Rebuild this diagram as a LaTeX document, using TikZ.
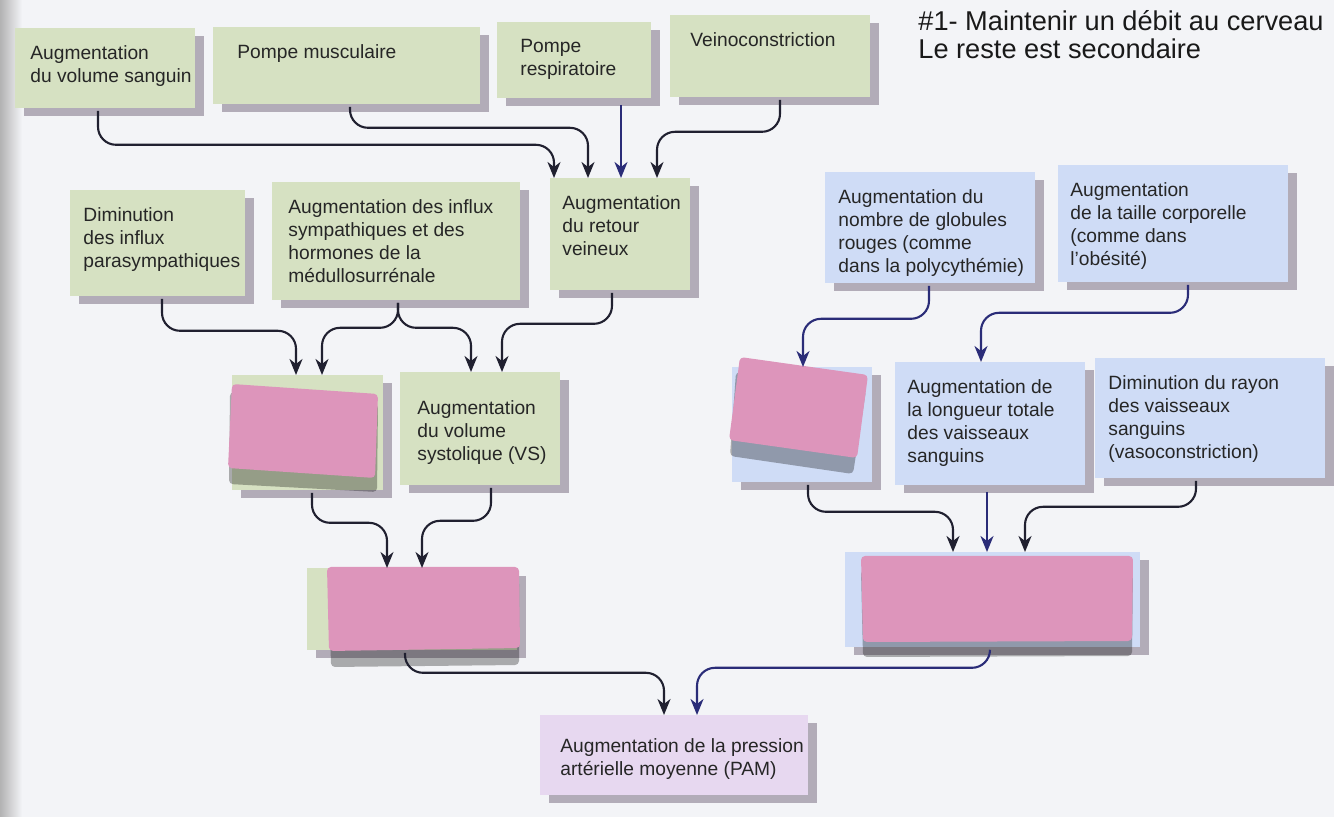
\documentclass[tikz,border=0pt]{standalone}
\usepackage{fontspec}
\setmainfont{Liberation Sans}
\usepackage{tikz}
\usetikzlibrary{arrows.meta, calc, shadows}
\definecolor{mybg}{RGB}{243,244,247}
\definecolor{mydark}{RGB}{32,32,48}
\definecolor{myblue}{RGB}{42,44,120}
\definecolor{mygreen}{RGB}{214,225,194}
\definecolor{mylblue}{RGB}{207,220,246}
\definecolor{mylilac}{RGB}{231,216,240}
\definecolor{mypink}{RGB}{221,149,187}
\definecolor{myshade}{RGB}{178,172,184}
\definecolor{mytext}{RGB}{38,38,38}
\tikzset{
  gbox/.style={rectangle, fill=mygreen, anchor=north west, inner sep=0pt,
    drop shadow={shadow xshift=4.5pt, shadow yshift=-4pt, fill=myshade, opacity=1}},
  bbox/.style={gbox, fill=mylblue},
  lbox/.style={gbox, fill=mylilac},
  txt/.style={anchor=north west, align=left, inner sep=0pt, xshift=#1, yshift=-8.5pt,
    font=\fontsize{9.6}{11.6}\selectfont, text=mytext},
  txt/.default=6.5pt,
  arrow/.style={-{Stealth[length=8pt, width=6.5pt, inset=2.5pt]}, line width=1.05pt,
    color=mydark, rounded corners=9pt},
  bluearrow/.style={arrow, color=myblue},
  cover/.style={fill=mypink, rounded corners=2pt},
  covershade/.style={fill=black, opacity=0.3, rounded corners=2pt}
}

\begin{document}
\begin{tikzpicture}[x=0.5pt, y=-0.5pt]
  \useasboundingbox (0,0) rectangle (1334,817);
  % paper
  \fill[mybg] (0,0) rectangle (1334,817);
  \shade[left color=black!30, right color=mybg] (0,0) rectangle (22,817);

  \node[anchor=north west, align=left, inner sep=0pt, font=\fontsize{13.6}{14}\selectfont,
    text=black!90] (goal) at (918,10) {\#1- Maintenir un débit au cerveau\\Le reste est secondaire};

  % top row
  \node[gbox, minimum width=90pt, minimum height=40pt,
    label={[txt=7.5pt]north west:Augmentation\\du volume sanguin}] (volsang) at (15,28) {};
  \node[gbox, minimum width=133.5pt, minimum height=38.5pt,
    label={[txt=12pt]north west:Pompe musculaire}] (pompmus) at (213,27) {};
  \node[gbox, minimum width=77pt, minimum height=38pt,
    label={[txt=11.5pt]north west:Pompe\\respiratoire}] (pomprsp) at (497,22) {};
  \node[gbox, minimum width=100pt, minimum height=41pt,
    label={[txt=10pt]north west:Veinoconstriction}] (veino) at (670,15) {};

  % second row
  \node[gbox, minimum width=87.5pt, minimum height=53pt,
    label={[txt]north west:Diminution\\des influx\\parasympathiques}] (parasym) at (70,190) {};
  \node[gbox, minimum width=124pt, minimum height=59pt,
    label={[txt=8pt]north west:Augmentation des influx\\sympathiques et des\\hormones de la\\médullosurrénale}] (sympa) at (272,182) {};
  \node[gbox, minimum width=70pt, minimum height=56pt,
    label={[txt=6pt]north west:Augmentation\\du retour\\veineux}] (retour) at (550,178) {};
  \node[bbox, minimum width=105pt, minimum height=55.5pt,
    label={[txt]north west:Augmentation du\\nombre de globules\\rouges (comme\\dans la polycythémie)}] (glob) at (825,172) {};
  \node[bbox, minimum width=115pt, minimum height=58.5pt,
    label={[txt=6pt]north west:Augmentation\\de la taille corporelle\\(comme dans\\l’obésité)}] (taille) at (1058,165) {};

  % third row
  \node[gbox, minimum width=75.5pt, minimum height=57.5pt] (fc) at (232,375) {};
  \node[gbox, minimum width=80pt, minimum height=56.5pt,
    label={[txt=8.5pt, yshift=-5.5pt]north west:Augmentation\\du volume\\systolique (VS)}] (vs) at (400,372) {};
  \node[bbox, minimum width=70pt, minimum height=57.5pt] (visc) at (732,367) {};
  \node[bbox, minimum width=95pt, minimum height=61.5pt,
    label={[txt=6pt]north west:Augmentation de\\la longueur totale\\des vaisseaux\\sanguins}] (longueur) at (895,362) {};
  \node[bbox, minimum width=115pt, minimum height=60pt,
    label={[txt]north west:Diminution du rayon\\des vaisseaux\\sanguins\\(vasoconstriction)}] (rayon) at (1095,358) {};

  % fourth row
  \node[gbox, minimum width=105pt, minimum height=41pt] (dc) at (307,568) {};
  \node[bbox, minimum width=147.5pt, minimum height=47.5pt] (rpt) at (845,552) {};

  \node[lbox, minimum width=134pt, minimum height=40pt,
    label={[txt=10pt, yshift=-3pt]north west:Augmentation de la pression\\artérielle moyenne (PAM)}] (pam) at (540,715) {};

  % pink covers
  \fill[covershade] (230,392) -- (378,404) -- (377,492) -- (229,484) -- cycle;
  \fill[cover] (232,384) -- (378,394) -- (375,478) -- (228,468) -- cycle;
  \fill[covershade] (736,372) -- (866,390) -- (853,474) -- (730,456) -- cycle;
  \fill[cover] (740,357) -- (868,375) -- (857,458) -- (729,440) -- cycle;
  \fill[covershade] (329,580) -- (519,580) -- (519,665) -- (331,667) -- cycle;
  \fill[cover] (327,567) -- (519,567) -- (520,648) -- (329,651) -- cycle;
  \fill[covershade] (861,570) -- (1133,570) -- (1132,656) -- (863,657) -- cycle;
  \fill[cover] (861,556) -- (1133,556) -- (1132,641) -- (863,642) -- cycle;

  % into venous return
  \draw[arrow] ($(volsang.south west)+(83,2)$) -- ++(0,34) -| ($(retour.north west)+(4,0)$);
  \draw[arrow] ($(pompmus.south west)+(137,2)$) -- ++(0,21) -| ($(retour.north west)+(38,0)$);
  \draw[bluearrow] ($(pomprsp.south west)+(124,6)$) -- ($(retour.north west)+(71,0)$);
  \draw[arrow] ($(veino.south west)+(110,2)$) -- ++(0,32) -| ($(retour.north west)+(107,0)$);

  % left branch
  \draw[arrow] ($(parasym.south west)+(92,2)$) -- ++(0,32) -| ($(fc.north west)+(64,0)$);
  \draw[arrow] ($(sympa.south west)+(126,2)$) -- ++(0,25) -| ($(fc.north west)+(90,0)$);
  \draw[arrow] ($(sympa.south west)+(126,2)$) -- ++(0,25) -| ($(vs.north west)+(71,0)$);
  \draw[arrow] ($(retour.south west)+(62,2)$) -- ++(0,31) -| ($(vs.north west)+(102,0)$);
  \draw[arrow] ($(fc.south west)+(80,2)$) -- ++(0,30) -| ($(dc.north west)+(80,0)$);
  \draw[arrow] ($(vs.south west)+(91,2)$) -- ++(0,33) -| ($(dc.north west)+(115,0)$);

  % right branch
  \draw[bluearrow] ($(glob.south west)+(104,2)$) -- ++(0,33) -| ($(visc.north west)+(71,0)$);
  \draw[bluearrow] ($(taille.south west)+(130,2)$) -- ++(0,28) -| ($(longueur.north west)+(86,0)$);
  \draw[arrow] ($(visc.south west)+(76,2)$) -- ++(0,27) -| ($(rpt.north west)+(108,0)$);
  \draw[bluearrow] ($(longueur.south west)+(92,6)$) -- ($(rpt.north west)+(142,0)$);
  \draw[arrow] ($(rayon.south west)+(101,2)$) -- ++(0,26) -| ($(rpt.north west)+(180,0)$);

  % to mean arterial pressure
  \draw[arrow] ($(dc.south west)+(98,2)$) -- ++(0,20) -| ($(pam.north west)+(124,0)$);
  \draw[bluearrow] ($(rpt.south west)+(145,2)$) -- ++(0,18) -| ($(pam.north west)+(157,0)$);
\end{tikzpicture}
\end{document}
